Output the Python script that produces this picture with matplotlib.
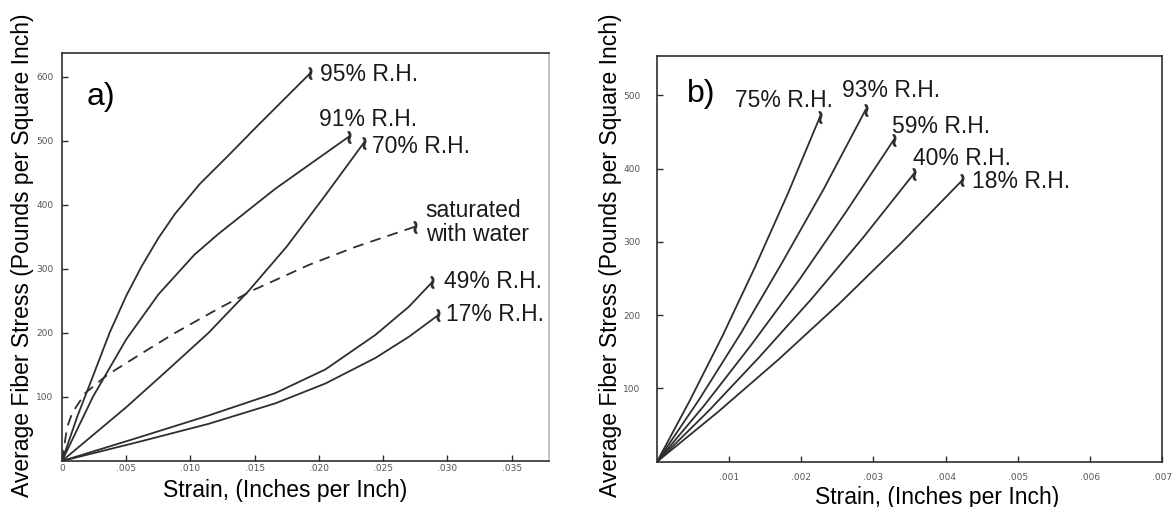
import matplotlib
matplotlib.use("Agg")
import matplotlib.pyplot as plt
from matplotlib.ticker import FixedLocator, FixedFormatter

plt.rcParams['font.family'] = ['Liberation Sans', 'DejaVu Sans']

# ---- panel a data (strain, stress) ----
a95_x = [0, 0.0012, 0.0024, 0.0037, 0.0050, 0.0062, 0.0075, 0.0088, 0.0107, 0.0130, 0.0153, 0.0193]
a95_y = [0, 70, 132, 200, 258, 304, 348, 386, 432, 478, 525, 605]
a91_x = [0, 0.0024, 0.0050, 0.0075, 0.0103, 0.0122, 0.0166, 0.0223]
a91_y = [0, 100, 190, 260, 322, 355, 425, 506]
a70_x = [0, 0.0050, 0.0080, 0.0114, 0.0145, 0.0175, 0.0205, 0.0235]
a70_y = [0, 84, 138, 200, 265, 335, 415, 497]
a49_x = [0, 0.0060, 0.0114, 0.0166, 0.0205, 0.0244, 0.0270, 0.0288]
a49_y = [0, 37, 71, 106, 143, 197, 241, 279]
a17_x = [0, 0.0060, 0.0114, 0.0166, 0.0205, 0.0244, 0.0270, 0.0293]
a17_y = [0, 30, 58, 90, 121, 161, 194, 228]
asat_x = [0, 0.0004, 0.0008, 0.0018, 0.0035, 0.0062, 0.0088, 0.0120, 0.0148, 0.0192, 0.0228, 0.0275]
asat_y = [0, 53, 75, 106, 134, 168, 200, 236, 266, 306, 334, 366]

# ---- panel b data ----
b75_x = [0, 0.000452, 0.000904, 0.00136, 0.00181, 0.00226]
b75_y = [0, 83, 171, 266, 365, 471]
b93_x = [0, 0.000578, 0.00116, 0.00173, 0.00231, 0.00289]
b93_y = [0, 84, 175, 271, 372, 480]
b59_x = [0, 0.000656, 0.00131, 0.00197, 0.00262, 0.00328]
b59_y = [0, 77, 160, 248, 341, 439]
b40_x = [0, 0.000712, 0.00142, 0.00214, 0.00285, 0.00356]
b40_y = [0, 69, 143, 222, 305, 393]
b18_x = [0, 0.000846, 0.00169, 0.00254, 0.00338, 0.00423]
b18_y = [0, 68, 140, 217, 298, 384]

a_xticks = [0, 0.005, 0.010, 0.015, 0.020, 0.025, 0.030, 0.035]
a_xlabels = ['0', '.005', '.010', '.015', '.020', '.025', '.030', '.035']
a_yticks = [100, 200, 300, 400, 500, 600]
b_xticks = [0.001, 0.002, 0.003, 0.004, 0.005, 0.006, 0.007]
b_xlabels = ['.001', '.002', '.003', '.004', '.005', '.006', '.007']
b_yticks = [100, 200, 300, 400, 500]

ink = '#2e2e2e'
lab_fs = 16.5

fig = plt.figure(figsize=(11.72, 5.07), dpi=100)
axa = fig.add_axes([0.0529, 0.0907, 0.4155, 0.8048])
axb = fig.add_axes([0.5606, 0.0893, 0.4309, 0.8008])


def end_mark(ax, x, y):
    ax.plot(x[-1], y[-1], marker=r'$\wr$', color=ink, ms=8)


for x, y in [(a95_x, a95_y), (a91_x, a91_y), (a70_x, a70_y), (a49_x, a49_y), (a17_x, a17_y)]:
    axa.plot(x, y, color=ink, lw=1.3)
    end_mark(axa, x, y)
axa.plot(asat_x, asat_y, color=ink, lw=1.3, dashes=(6, 4))
end_mark(axa, asat_x, asat_y)

for x, y in [(b75_x, b75_y), (b93_x, b93_y), (b59_x, b59_y), (b40_x, b40_y), (b18_x, b18_y)]:
    axb.plot(x, y, color=ink, lw=1.3)
    end_mark(axb, x, y)

# curve labels
for ax, items in [(axa, [('95% R.H.', 0.0201, 603), ('91% R.H.', 0.0200, 533),
                         ('70% R.H.', 0.0241, 491), ('saturated\nwith water', 0.0283, 373),
                         ('49% R.H.', 0.0297, 280), ('17% R.H.', 0.0299, 228)]),
                  (axb, [('75% R.H.', 0.001085, 493), ('93% R.H.', 0.002569, 507),
                         ('59% R.H.', 0.003262, 457), ('40% R.H.', 0.003553, 414),
                         ('18% R.H.', 0.004371, 382)])]:
    for txt, x, y in items:
        ax.text(x, y, txt, fontsize=lab_fs, color='#1a1a1a', ha='left', va='center',
                linespacing=1.05)

axa.text(0.051, 0.892, 'a)', transform=axa.transAxes, fontsize=23, va='center', ha='left')
axb.text(0.059, 0.906, 'b)', transform=axb.transAxes, fontsize=23, va='center', ha='left')

# axes styling
axa.set_xlim(0, 0.0379)
axa.set_ylim(0, 637)
axb.set_xlim(0, 0.007)
axb.set_ylim(0, 554)

axa.xaxis.set_major_locator(FixedLocator(a_xticks))
axa.xaxis.set_major_formatter(FixedFormatter(a_xlabels))
axa.yaxis.set_major_locator(FixedLocator(a_yticks))
axb.xaxis.set_major_locator(FixedLocator(b_xticks))
axb.xaxis.set_major_formatter(FixedFormatter(b_xlabels))
axb.yaxis.set_major_locator(FixedLocator(b_yticks))

for ax in (axa, axb):
    ax.tick_params(direction='in', length=4, width=1, color=ink, labelsize=6.5,
                   labelcolor='#555555', labelfontfamily='DejaVu Sans')
    for s in ax.spines.values():
        s.set_color(ink)
        s.set_linewidth(1.2)
axa.tick_params(axis='x', pad=2)
axa.tick_params(axis='y', pad=6)
axb.tick_params(axis='x', pad=8)
axb.tick_params(axis='y', pad=12)
axa.spines['right'].set_color('#b8b8b8')

axa.set_xlabel('Strain, (Inches per Inch)', fontsize=lab_fs)
axb.set_xlabel('Strain, (Inches per Inch)', fontsize=lab_fs)
axa.xaxis.set_label_coords(0.458, -0.045)
axb.xaxis.set_label_coords(0.554, -0.060)
fig.text(23 / 1172, 0.497, 'Average Fiber Stress (Pounds per Square Inch)',
         rotation=90, fontsize=lab_fs, ha='center', va='center')
fig.text(611 / 1172, 0.497, 'Average Fiber Stress (Pounds per Square Inch)',
         rotation=90, fontsize=lab_fs, ha='center', va='center')

fig.savefig('out.png', dpi=100)
